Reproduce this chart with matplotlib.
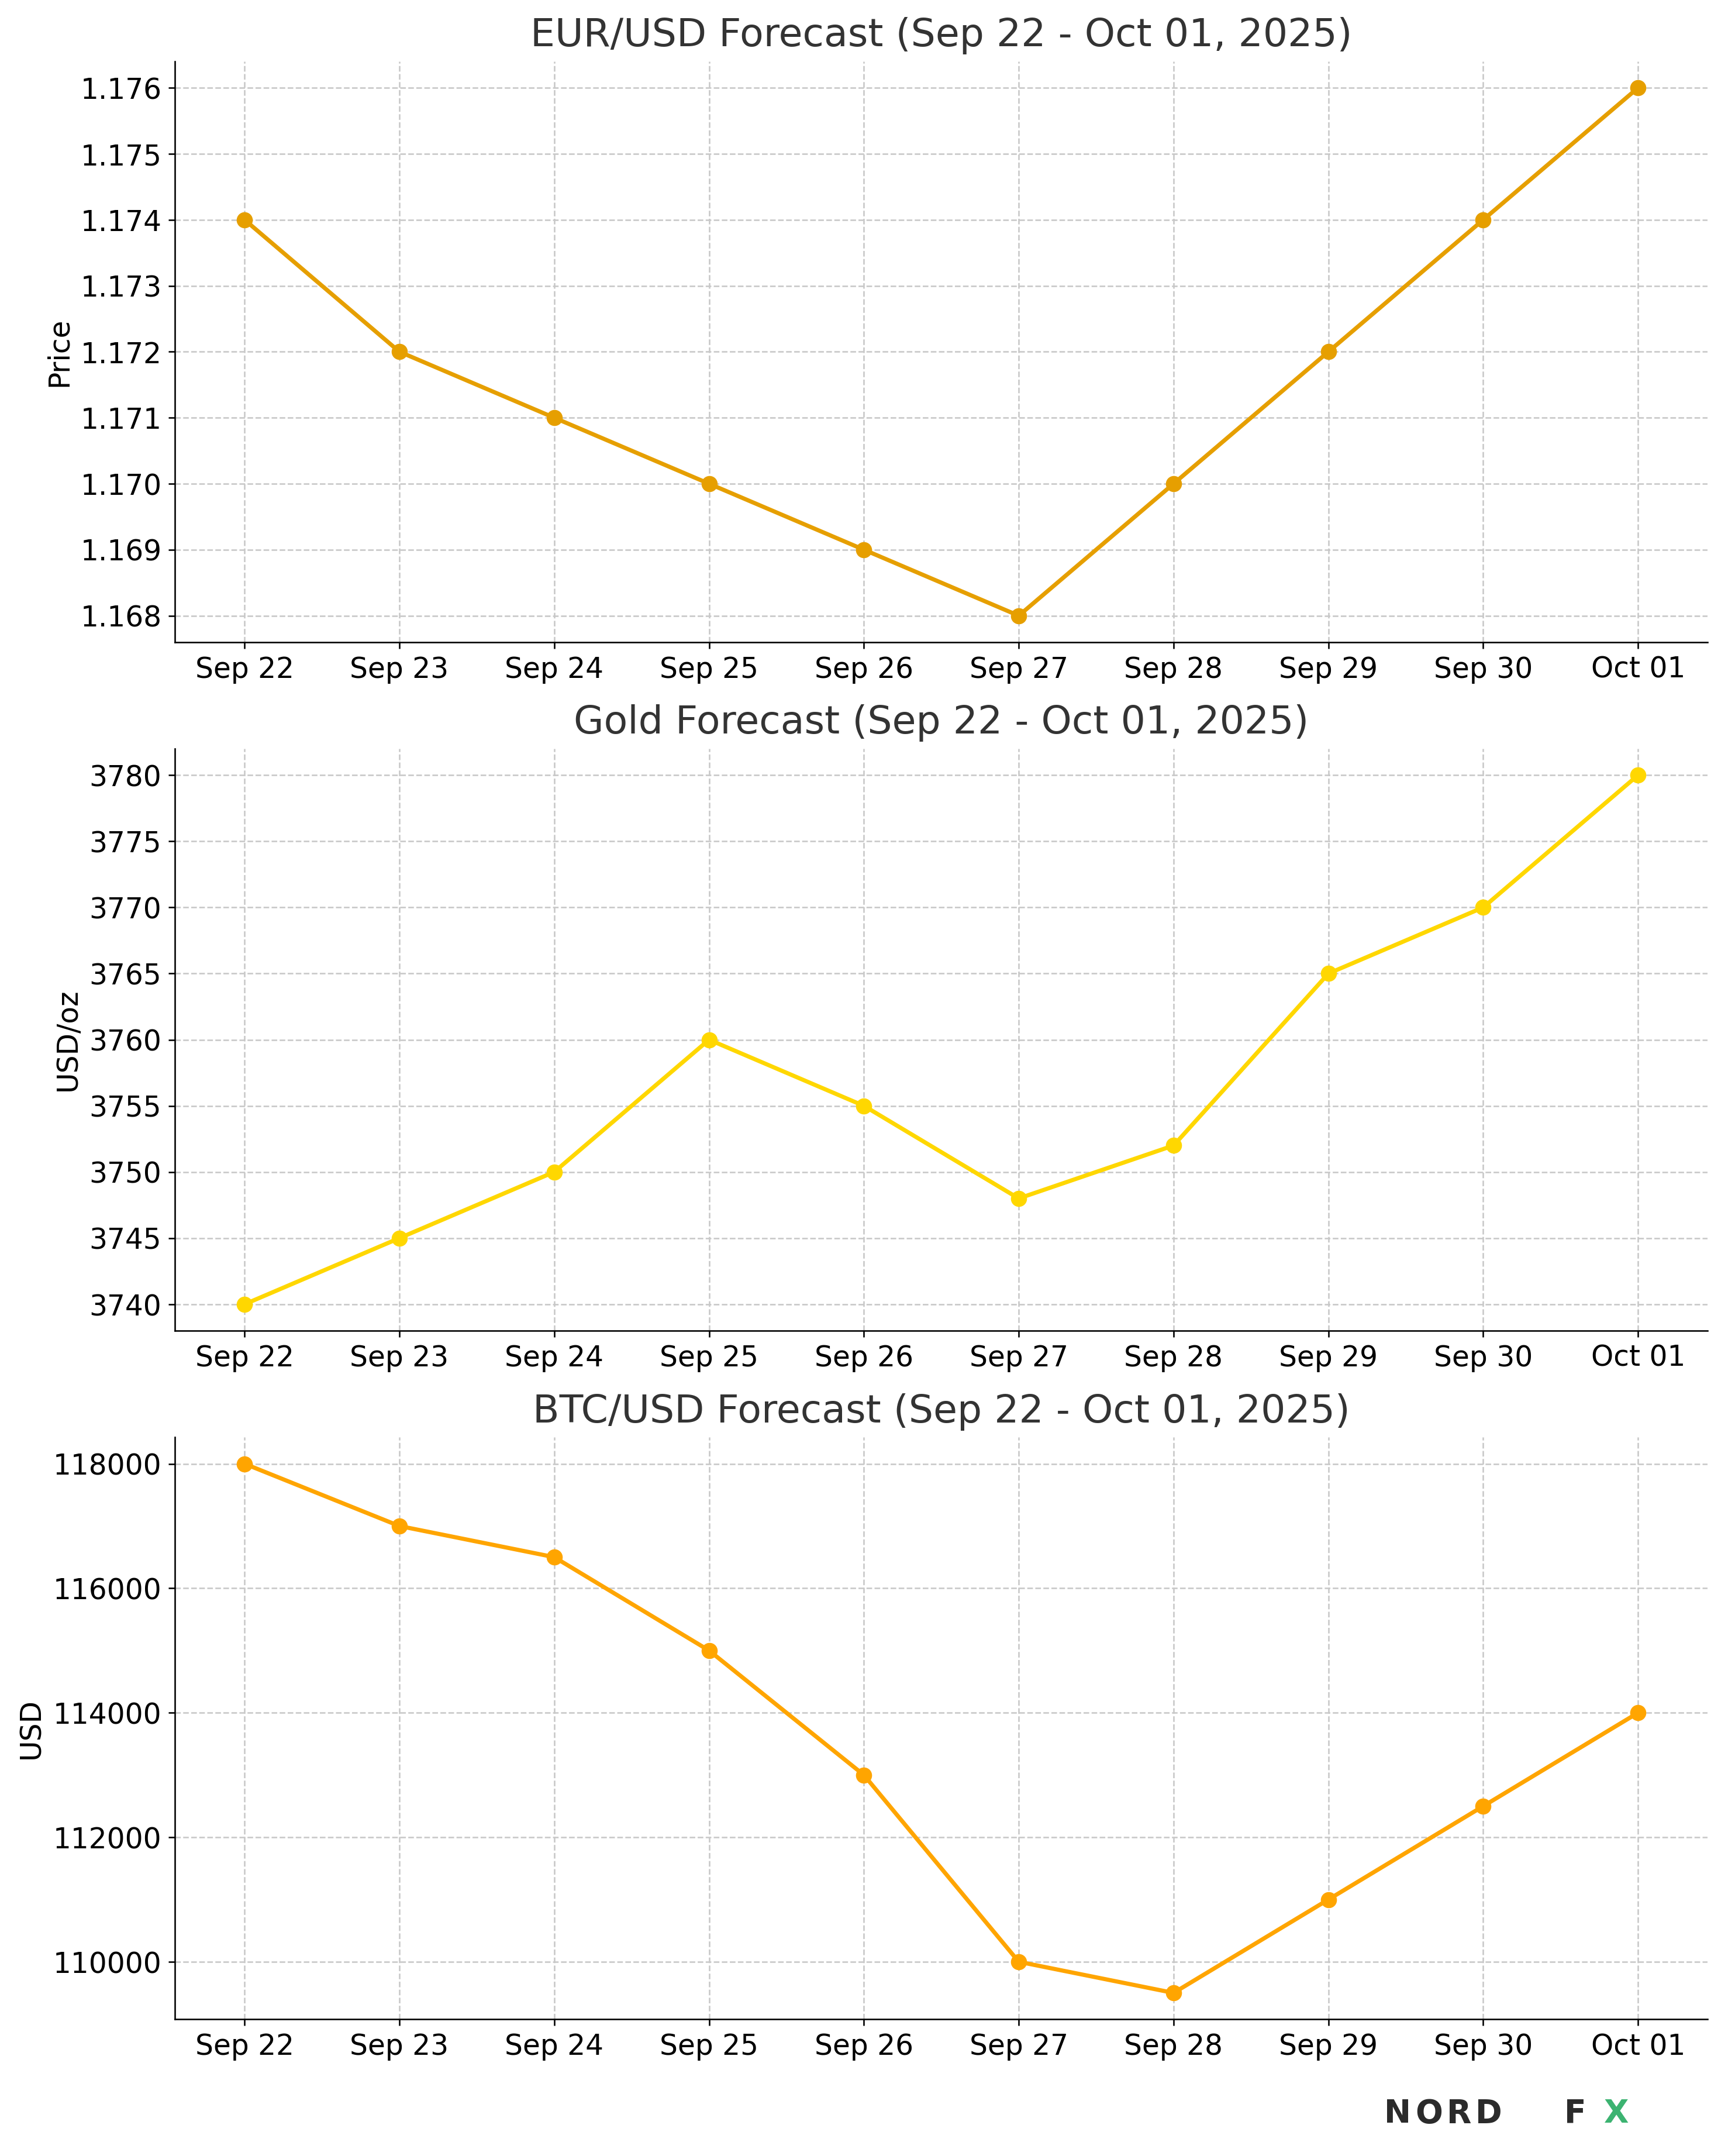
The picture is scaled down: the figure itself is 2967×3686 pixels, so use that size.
import matplotlib
matplotlib.use("Agg")
import matplotlib.pyplot as plt

dates = ["Sep 22","Sep 23","Sep 24","Sep 25","Sep 26","Sep 27","Sep 28","Sep 29","Sep 30","Oct 01"]
eurusd = [1.174,1.172,1.171,1.170,1.169,1.168,1.170,1.172,1.174,1.176]
gold = [3740,3745,3750,3760,3755,3748,3752,3765,3770,3780]
btc = [118000,117000,116500,115000,113000,110000,109500,111000,112500,114000]

fig = plt.figure(figsize=(12.71, 15.79), dpi=233.45)
W, H = 1270, 1578
def ax_at(l, t, r, b):
    return fig.add_axes([l/W, 1-b/H, (r-l)/W, (b-t)/H])

specs = [
    (eurusd, "#E69F00", "EUR/USD Forecast (Sep 22 - Oct 01, 2025)", "Price", (128,45,1250,470), "{:.3f}"),
    (gold, "#FFD700", "Gold Forecast (Sep 22 - Oct 01, 2025)", "USD/oz", (128,548,1250,974), "{:.0f}"),
    (btc, "#FFA500", "BTC/USD Forecast (Sep 22 - Oct 01, 2025)", "USD", (128,1052,1250,1478), "{:.0f}"),
]
x = list(range(len(dates)))
for vals, col, title, ylab, box, fmt in specs:
    ax = ax_at(*box)
    ax.plot(x, vals, color=col, marker="o", linewidth=2.2, markersize=7.5)
    ax.set_title(title, fontsize=20.5, color="#333333", pad=8)
    ax.set_ylabel(ylab, fontsize=15)
    ax.set_xticks(x, dates)
    ax.tick_params(labelsize=15)
    ax.grid(True, linestyle="--", color="#c8c8c8", linewidth=0.8)
    ax.spines["top"].set_visible(False)
    ax.spines["right"].set_visible(False)
    ax.set_xlim(-0.45, 9.45)
    ax.yaxis.set_major_formatter(matplotlib.ticker.FuncFormatter(lambda v, p, f=fmt: f.format(v)))

ly = 1 - 1547/H
for ch, px, c in [("N",1013,"#2b2b2b"),("O",1036,"#2b2b2b"),("R",1059,"#2b2b2b"),("D",1080,"#2b2b2b"),
                  ("F",1145,"#2b2b2b"),("X",1174,"#3cb371")]:
    fig.text(px/W, ly, ch, fontsize=17, fontweight="heavy", color=c, va="center", ha="left")
fig.savefig("out.png", dpi=233.45)
